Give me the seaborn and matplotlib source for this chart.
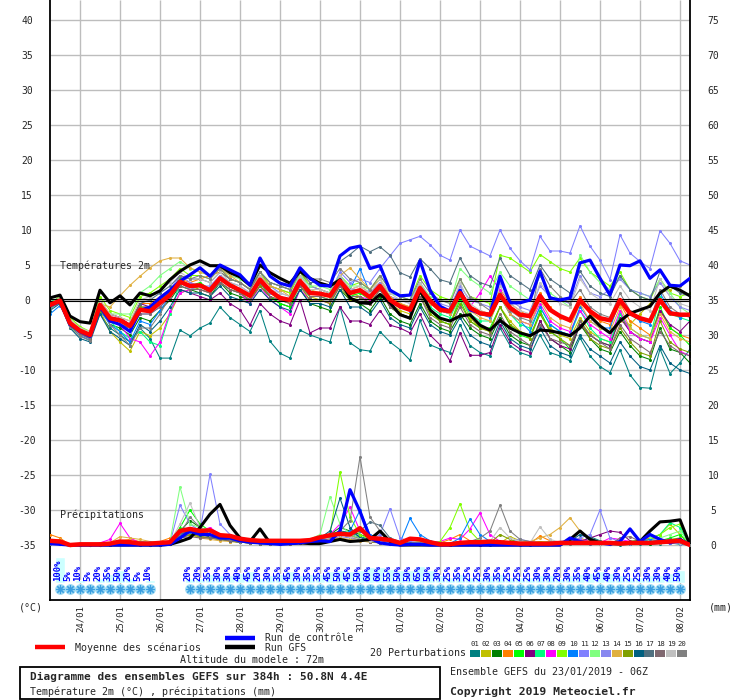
import matplotlib
matplotlib.use("Agg")
import matplotlib.pyplot as plt
from matplotlib.patches import Rectangle
import pandas as pd
import seaborn as sns

# ---- time axis (hours after 23/01/2019 06Z) ----
hours = list(range(0, 385, 6))
day_ticks = list(range(18, 384, 24))
day_labels = ['24/01', '25/01', '26/01', '27/01', '28/01', '29/01', '30/01', '31/01',
              '01/02', '02/02', '03/02', '04/02', '05/02', '06/02', '07/02', '08/02']

# ---- 2m temperature (degC) ----
mean_t = [-0.7, -0.1, -3.3, -4.4, -5.0,
          -0.7, -2.6, -2.9, -3.7, -1.4, -1.6, -0.4, 0.7, 2.6, 2.0, 2.1, 1.4,
          3.1, 2.1, 1.4, 0.6, 2.9, 1.3, 0.3, 0.0, 2.7, 1.0, 0.9, 0.6,
          2.7, 1.0, 1.4, 0.4, 2.0, 0.0, -0.9, -1.4, 1.7, -0.1, -1.4, -1.6,
          1.0, -1.1, -1.9, -2.1, 0.7, -1.1, -2.1, -2.3, 0.6, -1.4, -2.3, -2.9,
          0.0, -1.6, -2.6, -2.9, 0.0, -1.9, -2.6, -3.0, 0.0, -1.9, -2.1, -2.1]
ctrl_t = [-0.8, -0.2, -3.5, -4.5, -5.2,
          -1.0, -3.0, -3.5, -4.5, -1.5, -1.0, 0.3, 1.4, 2.7, 3.6, 4.6, 3.4,
          5.0, 4.3, 3.6, 2.1, 6.0, 3.4, 2.4, 2.0, 4.6, 3.1, 2.1, 2.0,
          6.3, 7.4, 7.7, 4.5, 4.9, 1.4, 0.6, 0.7, 5.6, 1.4, -0.9, -1.6,
          1.4, -1.4, -1.9, -2.1, 3.4, -0.4, -0.4, 0.0, 4.1, 0.3, 0.0, 0.3,
          5.3, 5.7, 3.1, 0.7, 5.0, 4.9, 5.6, 3.1, 4.3, 2.1, 2.0, 3.1]
gfs_t = [0.3, 0.7, -2.3, -3.1, -3.3,
         1.4, -0.4, 0.6, -0.7, 1.0, 0.6, 1.3, 2.9, 4.1, 5.0, 5.6, 4.9,
         4.9, 3.9, 3.3, 2.1, 5.0, 3.9, 3.1, 2.4, 4.1, 3.1, 2.4, 2.0,
         2.9, 0.3, -0.4, -0.5, 0.8, -0.4, -2.1, -2.6, 1.4, -1.4, -2.6, -3.0,
         -2.3, -2.1, -3.6, -4.3, -2.9, -4.0, -4.7, -5.1, -4.3, -4.4, -4.7, -5.1,
         -4.0, -2.3, -3.7, -4.7, -3.0, -1.9, -1.4, -0.9, 1.0, 2.0, 1.4, 0.6]

p01_t = [-0.5, 0.0, -3.5, -5.0, -5.5, -2.0, -4.0, -5.0, -6.0, -4.0, -5.5, -8.3, -8.3,
         -4.3, -5.1, -4.0, -3.3, -1.0, -2.5, -3.5, -4.5, -1.5, -5.9, -7.6, -8.3,
         -4.3, -5.0, -5.5, -6.0, -1.0, -6.1, -7.1, -7.3, -4.5, -6.0, -7.1, -8.6,
         -2.9, -6.4, -7.0, -7.5, -3.5, -6.5, -7.5, -8.0, -4.0, -6.5, -7.5, -8.0,
         -5.0, -7.5, -8.0, -8.7, -5.4, -8.0, -9.5, -10.4, -7.1, -10.7, -12.5, -12.6,
         -7.0, -10.5, -9.0, -7.0]
p02_t = [-1.0, 0.2, -3.0, -4.5, -5.2, -1.5, -4.5, -6.0, -7.3, -4.5, -5.1, -4.0, -2.0,
         1.0, 1.5, 2.0, 1.5, 3.5, 2.5, 1.5, 0.5, 3.0, 1.0, 0.0, -0.5,
         2.0, 0.5, 0.0, -0.5, 2.5, 1.0, 0.5, -0.5, 2.5, -0.5, -1.5, -2.0,
         1.0, -1.5, -3.0, -3.5, 0.5, -2.5, -4.0, -4.5, -1.0, -3.0, -4.5, -5.0,
         -2.0, -4.0, -5.0, -5.5, -2.5, -4.5, -5.5, -6.0, -3.0, -3.5, -2.0, -0.5,
         1.0, 1.5, 2.0, 3.1]
p03_t = [-0.8, 0.3, -3.2, -4.8, -5.5, -1.0, -3.5, -4.0, -5.0, -2.5, -3.0, -1.5, 0.0,
         2.0, 1.5, 1.0, 0.5, 2.5, 1.0, 0.5, 0.0, 2.0, 0.5, -0.5, -1.0,
         1.5, -0.5, -1.0, -1.5, 1.5, 0.0, -0.5, -1.5, 0.5, -2.0, -3.0, -3.5,
         -0.5, -3.0, -4.0, -4.5, -2.0, -4.0, -5.0, -5.5, -2.5, -5.0, -6.0, -6.5,
         -3.0, -5.5, -6.5, -7.5, -3.5, -5.5, -7.0, -7.5, -4.5, -6.5, -8.0, -8.5,
         -4.0, -7.0, -7.5, -9.0]
p04_t = [-0.5, 0.5, -2.8, -4.0, -4.8, 0.0, -2.0, -2.5, -3.0, -0.5, -0.5, 0.5, 1.5,
         3.0, 2.5, 3.0, 3.5, 4.0, 3.0, 2.5, 1.5, 4.0, 2.0, 1.5, 1.0,
         4.0, 2.0, 1.5, 1.0, 3.5, 1.5, 2.0, 1.0, 2.5, 0.5, -0.5, -1.0,
         2.0, 0.0, -1.0, -1.5, 1.5, -1.0, -1.5, -2.0, 1.5, -0.5, -1.5, -2.5,
         1.0, -1.0, -2.5, -3.0, 0.5, -2.0, -3.0, -3.5, -0.5, -3.0, -4.0, -5.0,
         -1.5, -4.0, -5.0, -5.5]
p05_t = [-1.2, -0.3, -3.8, -5.0, -5.8, -1.0, -3.0, -3.5, -4.0, -1.0, -1.5, 0.0, 1.0,
         3.0, 2.0, 2.5, 1.5, 3.0, 2.0, 1.0, 0.5, 2.5, 0.5, -0.5, -1.0,
         2.5, 0.5, 0.5, 0.0, 2.5, 0.5, 1.0, 0.0, 2.0, -1.0, -2.0, -2.5,
         1.5, -1.5, -3.0, -3.5, 0.0, -3.0, -4.0, -4.0, -1.0, -3.5, -5.0, -5.5,
         -1.5, -4.5, -5.5, -7.0, -3.0, -5.0, -6.0, -6.5, -2.0, -4.5, -5.5, -6.0,
         -1.0, -4.0, -5.0, -6.5]
p06_t = [-1.0, -0.5, -3.5, -4.5, -5.0, -1.0, -2.0, -2.5, -3.5, -0.5, -1.0, 0.0, 1.0,
         1.5, 1.0, 0.5, 0.0, 1.0, -0.5, -1.4, -3.6, -0.5, -2.0, -3.0, -3.5,
         0.0, -4.7, -4.0, -4.0, -1.0, -3.0, -3.0, -3.5, -1.5, -3.6, -4.0, -4.7,
         -2.0, -5.0, -6.4, -8.7, -4.7, -7.9, -7.9, -7.5, -3.5, -6.0, -7.0, -7.5,
         -3.0, -5.5, -6.5, -7.0, -3.5, -5.0, -6.0, -6.5, -2.5, -4.5, -5.5, -6.0,
         -1.5, -3.5, -4.5, -3.0]
p07_t = [-0.3, 0.4, -3.0, -4.2, -5.0, -0.5, -3.0, -4.5, -5.5, -4.5, -6.0, -6.5, -2.0,
         2.5, 2.0, 2.0, 1.0, 2.5, 1.5, 1.0, 0.0, 2.5, 1.0, 0.5, 0.0,
         2.5, 1.0, 1.0, 0.5, 3.0, 1.5, 1.5, 0.5, 2.0, 0.0, -1.0, -1.5,
         1.5, -1.0, -2.0, -2.5, 0.5, -2.0, -3.0, -3.0, 0.5, -2.0, -3.5, -4.0,
         -1.0, -3.5, -4.5, -5.0, -1.5, -4.0, -5.5, -6.0, -2.0, -4.0, -5.0, -5.5,
         0.5, -2.0, -2.5, -3.0]
p08_t = [-1.0, -0.2, -3.5, -4.8, -5.5, -0.5, -2.5, -3.5, -5.5, -6.0, -8.0, -6.0, -1.6,
         1.0, 1.5, 1.5, 1.0, 2.5, 1.5, 1.0, -0.5, 2.0, 0.0, -1.0, -2.0,
         1.5, 0.0, 0.0, -0.5, 2.0, 0.5, 0.5, 0.0, 2.0, -0.5, -1.0, -1.5,
         2.0, -0.5, -1.5, -2.0, 1.0, -1.0, 1.0, 3.4, 1.5, -2.0, -3.0, -3.5,
         -0.5, -3.0, -4.0, -4.5, -1.5, -3.5, -4.5, -5.5, -1.5, -4.5, -5.5, -6.0,
         -2.5, -5.0, -7.3, -8.0]
p09_t = [-0.6, 0.5, -2.5, -3.8, -4.5, 0.5, -1.5, -2.0, -2.5, 0.5, 1.0, 2.0, 3.0,
         4.5, 3.5, 3.5, 3.0, 4.5, 3.0, 2.5, 1.5, 4.0, 2.0, 1.5, 1.0,
         4.0, 2.0, 1.5, 1.0, 3.5, 2.0, 2.5, 1.5, 3.5, 1.5, 0.5, 0.0,
         3.5, 1.5, 0.5, 0.0, 3.0, 0.5, 0.0, -0.5, 6.4, 6.0, 5.0, 4.0,
         6.5, 5.5, 4.5, 4.0, 6.0, 4.0, 3.0, 2.0, 4.0, 1.5, 0.5, 0.0,
         3.0, 1.0, 0.5, 1.0]
p10_t = [-2.0, -0.8, -3.5, -5.0, -5.8, -1.5, -3.5, -4.5, -6.0, -3.0, -3.5, -1.5, 0.5,
         2.5, 2.0, 2.0, 1.5, 3.0, 2.0, 1.5, 0.5, 3.0, 1.5, 0.5, 0.0,
         3.0, 1.0, 1.0, 0.5, 3.0, 1.5, 4.5, 1.0, 2.0, 0.0, -1.0, -1.5,
         1.5, -0.5, -1.5, -2.0, 1.5, -1.0, -2.0, -2.5, 0.5, -2.0, -3.0, -4.5,
         -1.0, -3.5, -4.5, -5.0, -1.0, -3.0, -4.0, -4.0, 0.0, -2.0, -3.0, -3.5,
         1.0, -1.5, -2.5, -2.0]
p11_t = [-0.5, 0.2, -3.0, -4.5, -5.0, -1.0, -2.5, -3.0, -3.5, -1.0, -1.0, 0.5, 1.5,
         3.5, 2.5, 2.0, 2.0, 3.5, 2.5, 2.0, 1.0, 3.5, 2.0, 1.0, 0.5,
         3.5, 2.0, 1.5, 1.0, 4.0, 2.5, 3.0, 2.5, 4.5, 6.3, 8.1, 8.6,
         9.1, 7.9, 6.4, 5.7, 10.0, 7.7, 7.0, 6.3, 10.0, 7.4, 5.6, 4.3,
         9.1, 7.0, 7.0, 6.7, 10.6, 7.7, 5.7, 2.9, 9.3, 6.7, 5.5, 4.5,
         9.9, 8.1, 5.6, 5.0]
p12_t = [-0.8, 0.0, -3.2, -4.5, -5.2, -0.5, -2.0, -2.0, -2.0, 1.0, 2.0, 3.5, 4.5,
         5.5, 4.5, 4.0, 3.5, 4.5, 3.5, 3.0, 2.0, 4.0, 2.5, 2.0, 1.5,
         3.5, 2.0, 2.0, 1.5, 3.5, 2.0, 2.0, 1.5, 3.0, 1.0, 0.5, 0.0,
         2.5, 0.5, 0.0, -0.5, 4.5, 3.0, 2.0, 1.0, 4.0, 2.0, 1.0, 0.0,
         3.5, 1.0, 0.0, -1.0, 6.5, 4.0, 2.5, 1.5, 3.5, 1.5, 1.0, 0.5,
         3.0, 1.0, -1.0, -2.0]
p13_t = [-1.0, -0.5, -3.5, -5.0, -5.6, -1.0, -3.0, -3.5, -4.5, -2.0, -2.0, -1.0, 0.5,
         2.5, 1.5, 2.0, 1.5, 3.0, 2.0, 1.5, 0.5, 3.0, 1.0, 0.5, 0.0,
         3.0, 1.0, 1.0, 0.5, 3.0, 1.5, 1.5, 1.0, 2.5, 0.5, 0.0, -0.5,
         2.5, 0.0, -0.5, -1.0, 2.0, 0.0, -0.5, -1.0, 2.5, 0.0, -1.0, -1.5,
         2.0, 0.5, 0.0, -0.5, 3.5, 1.0, 0.5, 1.5, 3.0, 1.5, 1.0, 0.5,
         2.5, 0.5, -1.0, -1.5]
p14_t = [-0.5, 0.3, -3.0, -4.2, -5.0, -0.5, -1.0, 0.6, 2.1, 3.4, 4.6, 5.6, 6.0,
         6.0, 4.6, 4.0, 3.5, 4.5, 3.5, 2.5, 1.5, 3.5, 2.0, 1.5, 0.5,
         3.0, 1.5, 1.0, 0.5, 3.5, 4.6, 3.0, 1.5, 3.0, 0.5, -0.5, -1.0,
         2.0, -0.5, -1.5, -2.0, 1.0, -1.5, -2.5, -3.0, 0.5, -2.0, -3.0, -3.5,
         0.0, -2.5, -3.5, -4.0, -0.5, -3.0, -4.0, -4.5, -1.0, -4.0, -5.0, -5.5,
         -2.0, -4.5, -5.5, -6.0]
p15_t = [-1.0, 0.0, -3.5, -4.8, -5.5, -1.5, -3.0, -3.5, -4.0, -1.0, -1.0, 0.0, 1.0,
         2.5, 2.0, 1.5, 1.0, 2.5, 1.5, 1.0, 0.0, 2.0, 0.5, 0.0, -0.5,
         2.0, 0.0, 0.0, -0.5, 2.0, 0.0, 0.5, -0.5, 1.5, -1.0, -2.0, -2.5,
         0.5, -2.0, -3.0, -3.5, -0.5, -3.0, -4.0, -4.5, -1.0, -3.5, -4.5, -5.5,
         -2.0, -4.5, -5.5, -6.5, -3.0, -5.5, -6.5, -7.0, -4.0, -6.0, -7.5, -8.0,
         -3.0, -6.0, -7.0, -7.5]
p16_t = [-1.5, -0.5, -4.0, -5.5, -6.0, -2.0, -4.5, -5.5, -6.5, -3.5, -4.5, -3.0, -1.0,
         1.5, 1.0, 1.0, 0.5, 2.0, 0.5, 0.0, -0.5, 1.5, 0.0, -1.0, -1.5,
         1.5, -0.5, -0.5, -1.0, 1.5, -1.0, -1.0, -2.0, 0.0, -2.5, -3.5, -4.0,
         -1.0, -3.5, -4.5, -5.0, -2.5, -5.0, -6.0, -6.5, -3.0, -5.5, -6.5, -7.0,
         -4.0, -6.5, -7.5, -8.0, -5.0, -7.0, -8.0, -9.0, -6.0, -8.0, -9.5, -10.0,
         -6.5, -9.0, -10.0, -10.5]
p17_t = [-0.8, 0.2, -3.0, -4.5, -5.0, -0.5, -2.5, -3.0, -3.5, -0.5, 0.0, 1.0, 2.0,
         3.5, 3.0, 3.0, 2.5, 4.0, 3.0, 2.5, 1.5, 4.0, 2.5, 2.0, 1.5,
         4.0, 2.5, 2.5, 2.0, 5.5, 6.5, 7.7, 6.9, 7.6, 6.4, 3.9, 3.3,
         5.9, 4.5, 2.9, 2.5, 6.0, 3.5, 2.5, 2.0, 6.0, 3.5, 2.5, 1.5,
         5.0, 3.0, 2.0, 1.0, 4.1, 2.0, 1.0, 0.5, 3.5, 1.5, 0.5, 0.0,
         4.1, 2.0, 1.0, 0.5]
p18_t = [-1.0, -0.3, -3.5, -4.8, -5.5, -1.0, -3.0, -3.5, -4.0, -2.0, -2.0, -1.0, 0.5,
         2.0, 1.5, 1.5, 1.0, 2.5, 1.5, 1.0, 0.0, 2.5, 0.5, 0.0, -0.5,
         2.0, 0.5, 0.5, 0.0, 2.0, 0.5, 0.5, -0.5, 1.5, -1.0, -2.0, -2.5,
         0.5, -2.5, -3.5, -4.0, -1.0, -3.5, -4.5, -5.0, -2.0, -4.5, -5.5, -6.5,
         -3.5, -5.5, -6.0, -6.5, -3.0, -5.0, -6.0, -7.0, -3.5, -5.5, -6.5, -7.5,
         -4.5, -6.5, -7.5, -8.0]
p19_t = [-0.6, 0.4, -2.8, -4.0, -4.5, 0.0, -2.0, -2.5, -3.0, 0.0, 0.5, 1.5, 2.5,
         4.0, 3.0, 3.0, 2.5, 4.0, 2.5, 2.0, 1.0, 3.5, 1.5, 1.0, 0.5,
         3.5, 1.5, 1.5, 1.0, 3.5, 1.5, 2.0, 1.0, 3.0, 1.0, 0.0, -0.5,
         2.5, 0.0, -1.0, -1.5, 2.5, -0.5, -1.5, -2.0, 2.0, -0.5, -1.5, -2.0,
         2.5, 0.5, -0.5, -1.0, 3.0, 1.0, 0.0, -0.5, 2.0, 0.0, -1.0, -1.5,
         3.0, 0.5, -0.5, -1.0]
p20_t = [-1.2, -0.4, -3.8, -5.2, -5.8, -1.0, -3.5, -5.0, -6.5, -4.0, -4.0, -2.0, 0.5,
         3.5, 3.0, 3.5, 3.0, 4.5, 3.0, 2.5, 1.5, 4.0, 2.5, 2.0, 1.5,
         4.0, 3.0, 3.0, 2.5, 4.5, 3.0, 2.5, 1.5, 3.5, 1.5, 0.5, 0.0,
         3.0, 1.0, 0.0, -0.5, 3.0, 0.5, -0.5, -1.5, 1.0, -1.5, -2.5, -3.0,
         4.5, 2.0, 0.5, -0.5, 1.5, -1.0, -2.0, -2.5, 1.0, -1.5, -2.5, -3.0,
         1.5, -1.0, -2.0, -2.5]

# ---- 6h precipitation (mm) ----
mean_p = [0.6, 0.5, 0.0, 0.1, 0.1, 0.1, 0.2, 0.5, 0.4, 0.2, 0.2, 0.3, 0.4,
          2.0, 2.3, 2.0, 2.1, 1.4, 1.3, 0.9, 0.7, 0.6, 0.6, 0.6, 0.6,
          0.6, 0.7, 1.1, 1.4, 1.6, 1.5, 2.4, 1.0, 0.9, 0.7, 0.3, 0.9, 0.8, 0.4, 0.1, 0.1,
          0.3, 0.4, 0.4, 0.5, 0.4, 0.3, 0.2, 0.2, 0.2, 0.2, 0.3, 0.3, 0.3, 0.3, 0.3, 0.3,
          0.2, 0.3, 0.3, 0.3, 0.4, 0.5, 0.6, 0.0]
ctrl_p = [0.2, 0.1, 0, 0, 0, 0, 0, 0, 0, 0, 0, 0, 0.1,
          1.0, 2.0, 1.5, 1.5, 1.0, 1.0, 0.6, 0.4, 0.3, 0.2, 0.1, 0.2,
          0.3, 0.5, 0.6, 0.5, 2.0, 7.9, 4.8, 1.0, 0.3, 0.1, 0, 0.1, 0.1, 0, 0, 0,
          0, 0, 0, 0, 0, 0, 0, 0, 0, 0, 0, 1.0, 0.5, 0.2, 0.3, 0.1,
          0.5, 2.3, 0.5, 1.5, 0.8, 0.3, 0.8, 0]
gfs_p = [0.3, 0.2, 0, 0, 0, 0, 0, 0, 0, 0, 0, 0, 0.1,
         0.5, 1.0, 2.5, 4.4, 5.8, 2.8, 1.0, 0.5, 2.3, 0.3, 0.2, 0.2,
         0.3, 0.2, 0.2, 0.5, 0.8, 0.5, 0.6, 0.8, 2.0, 0.5, 0, 0, 0, 0, 0, 0,
         0, 0, 0, 0, 0, 0, 0, 0, 0, 0, 0, 0.8, 2.0, 0.8, 0.3, 0.2,
         0.2, 0.3, 0.5, 2.0, 3.3, 3.4, 3.6, 0]

p01_p = [0.2, 0.3, 0, 0, 0, 0, 0.1, 0.2, 0.2, 0, 0, 0, 0.1,
         1.0, 1.5, 1.2, 1.0, 0.8, 0.6, 0.4, 0.3, 0.2, 0.2, 0.2, 0.3,
         0.4, 0.5, 0.8, 1.5, 2.0, 1.8, 1.2, 0.8, 0.5, 0.3, 0.2, 0.1, 0.3, 0.2, 0.1, 0,
         0.1, 0.1, 0, 0, 0.1, 0.1, 0, 0, 0.1, 0.2, 0.1, 0.2, 0.3, 1.2, 0.6, 0.1,
         0, 0.1, 0.2, 0.1, 0.2, 0.3, 0.1, 0]
p02_p = [0.1, 0.2, 0, 0, 0, 0, 0, 0.1, 0.1, 0, 0, 0, 0.2,
         1.5, 2.0, 1.5, 1.2, 1.0, 0.5, 0.4, 0.3, 0.3, 0.2, 0.2, 0.2,
         0.3, 0.4, 0.6, 1.0, 1.5, 1.2, 0.8, 0.5, 0.3, 0.2, 0.1, 0.2, 0.5, 0.3, 0.1, 0.2,
         0.5, 0.3, 0.2, 0.1, 0.3, 1.2, 0.6, 0.4, 0.5, 0.3, 0.2, 0.6, 1.0, 0.5, 0.3, 0.2,
         0.2, 0.3, 0.5, 1.0, 1.5, 3.0, 1.5, 0]
p03_p = [0.3, 0.4, 0, 0, 0, 0, 0.1, 0.3, 0.2, 0.1, 0, 0, 0.1,
         2.0, 3.5, 2.5, 2.0, 1.5, 1.0, 0.6, 0.4, 0.3, 0.2, 0.3, 0.4,
         0.5, 0.6, 1.0, 1.5, 2.5, 2.0, 1.5, 1.0, 0.6, 0.3, 0.1, 0.2, 0.3, 0.2, 0.1, 0,
         0.1, 0.2, 0.1, 0.1, 0.2, 0.3, 0.2, 0.1, 0.2, 0.1, 0.1, 0.3, 0.5, 0.3, 0.2, 0.1,
         0.1, 0.2, 0.3, 0.2, 0.4, 0.5, 0.8, 0]
p04_p = [1.5, 1.0, 0, 0, 0, 0, 0.2, 0.6, 0.8, 0.5, 0.3, 0.5, 1.0,
         1.5, 1.8, 1.2, 1.0, 1.5, 0.8, 0.5, 0.3, 0.2, 0.3, 0.4, 0.5,
         0.6, 0.8, 1.0, 1.2, 1.5, 1.2, 1.0, 0.6, 0.4, 0.3, 0.2, 0.2, 0.3, 0.2, 0.3, 0.8,
         1.5, 0.6, 0.3, 0.2, 0.5, 0.3, 0.2, 0.2, 1.3, 0.6, 0.3, 0.4, 0.6, 0.5, 0.3, 0.2,
         0.3, 0.5, 0.6, 1.0, 0.8, 0.5, 0.4, 0]
p05_p = [0.2, 0.3, 0, 0, 0, 0, 0.1, 0.2, 0.3, 0.1, 0, 0.1, 0.3,
         2.5, 5.0, 3.0, 2.0, 1.5, 1.0, 0.6, 0.4, 0.3, 0.3, 0.2, 0.3,
         0.5, 0.6, 1.0, 1.2, 1.5, 1.5, 1.0, 0.6, 0.4, 0.2, 0.1, 0.2, 0.2, 0.1, 0.1, 0.1,
         0.2, 0.1, 0.1, 0.2, 0.3, 0.5, 0.3, 0.2, 0.2, 0.3, 0.2, 0.3, 0.5, 0.3, 0.2, 0.2,
         0.2, 0.3, 0.3, 0.5, 0.6, 1.0, 1.5, 0]
p06_p = [0.1, 0.2, 0, 0, 0, 0, 0, 0.1, 0.1, 0, 0, 0, 0.1,
         1.0, 1.5, 1.5, 1.2, 1.0, 0.8, 0.5, 0.3, 0.2, 0.2, 0.1, 0.2,
         0.3, 0.4, 0.8, 1.2, 1.8, 1.5, 1.0, 0.6, 0.4, 0.2, 0.1, 0.1, 0.2, 0.1, 0.1, 0,
         0.1, 0.1, 0, 0.1, 0.1, 0.2, 0.1, 0.1, 0.1, 0.1, 0.2, 0.3, 0.5, 1.0, 1.5, 2.0,
         1.8, 0.6, 0.4, 0.3, 0.5, 0.6, 0.3, 0]
p07_p = [0.2, 0.2, 0, 0, 0, 0, 0.1, 0.2, 0.2, 0.1, 0, 0, 0.1,
         1.5, 2.5, 2.0, 1.5, 1.2, 1.0, 0.6, 0.4, 0.3, 0.2, 0.2, 0.3,
         0.4, 0.5, 0.8, 1.2, 1.5, 1.2, 0.8, 0.5, 0.3, 0.2, 0.1, 0.1, 0.2, 0.1, 0.1, 0.1,
         0.1, 0.2, 0.1, 0.1, 0.2, 0.3, 0.2, 0.1, 0.2, 0.2, 0.1, 0.2, 0.3, 0.2, 0.1, 0.1,
         0.2, 0.3, 0.5, 0.8, 1.5, 3.2, 2.5, 0]
p08_p = [0.3, 0.5, 0, 0, 0, 0.3, 0.8, 3.1, 1.0, 0.3, 0.1, 0.2, 0.5,
         1.5, 1.8, 2.0, 2.5, 1.5, 1.0, 0.6, 0.4, 0.3, 0.3, 0.2, 0.3,
         0.4, 0.6, 1.0, 1.5, 3.0, 5.4, 2.0, 1.0, 0.5, 0.3, 0.2, 0.1, 0.2, 0.3, 0.5, 1.0,
         0.8, 2.3, 4.6, 1.5, 0.5, 0.3, 0.2, 0.2, 0.2, 0.3, 0.3, 0.5, 0.8, 0.5, 0.3, 1.0,
         0.8, 0.5, 0.3, 0.4, 0.5, 0.6, 0.4, 0]
p09_p = [0.2, 0.3, 0, 0, 0, 0, 0.1, 0.2, 0.3, 0.2, 0.1, 0.1, 0.3,
         1.5, 2.0, 1.5, 1.5, 1.2, 1.0, 0.5, 0.4, 0.3, 0.3, 0.2, 0.4,
         0.5, 0.6, 0.8, 1.5, 10.4, 4.0, 1.5, 0.8, 0.3, 0.2, 0.1, 0.2, 0.3, 0.2, 0.5, 2.5,
         5.9, 2.0, 0.5, 0.3, 0.3, 0.2, 0.2, 0.3, 0.4, 0.5, 0.3, 0.2, 0.3, 0.5, 0.4, 0.3,
         0.3, 0.5, 0.6, 0.8, 1.5, 2.5, 3.0, 0]
p10_p = [0.2, 0.2, 0, 0, 0, 0, 0.1, 0.2, 0.2, 0, 0, 0.1, 0.2,
         1.2, 1.8, 1.5, 1.5, 1.0, 0.8, 0.5, 0.3, 0.2, 0.2, 0.2, 0.3,
         0.4, 0.5, 0.8, 1.2, 1.5, 2.0, 5.0, 1.5, 0.8, 0.5, 0.3, 3.8, 1.5, 0.6, 0.3, 0.2,
         1.0, 3.7, 1.5, 0.5, 0.3, 0.2, 0.2, 0.3, 0.3, 0.4, 0.5, 0.3, 0.3, 0.5, 0.4, 0.3,
         0.2, 0.3, 0.5, 0.8, 0.6, 0.5, 0.3, 0]
p11_p = [0.2, 0.1, 0, 0, 0, 0, 0.1, 0.2, 0.1, 0, 0, 0.1, 0.3,
         5.7, 3.0, 2.0, 10.1, 3.0, 1.5, 0.8, 0.5, 0.3, 0.3, 0.2, 0.3,
         0.5, 0.6, 0.8, 1.0, 1.5, 1.2, 0.8, 0.5, 1.5, 5.2, 1.0, 0.5, 0.3, 0.2, 0.1, 0.1,
         0.2, 0.3, 0.2, 0.1, 0.2, 0.5, 0.8, 0.5, 0.3, 0.4, 0.5, 0.8, 1.0, 1.5, 5.0, 1.0,
         0.5, 0.4, 0.3, 0.5, 0.4, 0.3, 0.2, 0]
p12_p = [0.3, 0.3, 0, 0, 0, 0, 0.2, 0.3, 0.3, 0.1, 0.1, 0.2, 0.5,
         8.3, 3.0, 2.5, 2.0, 1.5, 1.0, 0.6, 0.4, 0.3, 0.3, 0.3, 0.5,
         0.6, 0.8, 1.5, 6.9, 3.0, 1.5, 1.0, 0.6, 0.4, 0.2, 0.2, 0.3, 0.5, 0.3, 0.2, 0.2,
         0.3, 0.5, 0.4, 0.3, 0.5, 0.4, 0.3, 0.2, 0.3, 0.4, 0.3, 0.5, 0.6, 0.4, 0.3, 0.3,
         0.4, 0.5, 0.8, 1.2, 1.0, 1.5, 2.0, 0]
p13_p = [0.1, 0.2, 0, 0, 0, 0, 0.1, 0.1, 0.1, 0, 0, 0, 0.2,
         1.5, 2.5, 2.0, 1.5, 1.0, 0.8, 0.5, 0.3, 0.2, 0.2, 0.2, 0.2,
         0.3, 0.4, 0.6, 0.8, 1.2, 1.0, 0.8, 0.5, 0.3, 0.2, 0.1, 0.2, 0.3, 0.2, 0.1, 0.1,
         0.1, 0.2, 0.1, 0.1, 0.2, 0.3, 0.2, 0.1, 0.2, 0.2, 0.1, 0.2, 0.3, 0.2, 0.1, 0.1,
         0.2, 0.2, 0.3, 0.4, 0.3, 0.5, 0.3, 0]
p14_p = [0.5, 0.8, 0, 0, 0, 0.1, 0.3, 1.2, 1.0, 0.8, 0.5, 0.4, 0.5,
         1.2, 1.5, 1.0, 0.8, 0.6, 0.5, 0.4, 0.3, 0.3, 0.3, 0.2, 0.3,
         0.4, 0.5, 0.6, 0.8, 1.0, 0.8, 0.6, 0.4, 0.3, 0.2, 0.2, 0.3, 0.4, 0.3, 0.2, 0.2,
         0.2, 0.3, 0.2, 0.2, 0.3, 0.2, 0.3, 0.5, 1.0, 1.5, 2.5, 3.9, 2.0, 1.0, 0.5, 0.3,
         0.3, 0.4, 0.5, 0.4, 0.3, 0.5, 0.4, 0]
p15_p = [0.2, 0.3, 0, 0, 0, 0, 0.1, 0.2, 0.2, 0.1, 0, 0, 0.2,
         1.0, 1.5, 1.2, 1.0, 0.8, 0.6, 0.4, 0.3, 0.2, 0.2, 0.2, 0.2,
         0.3, 0.4, 0.6, 1.0, 1.5, 1.2, 0.8, 0.5, 0.3, 0.2, 0.1, 0.2, 0.3, 0.2, 0.1, 0.3,
         0.5, 0.3, 0.2, 0.3, 1.5, 0.8, 0.3, 0.2, 0.2, 0.3, 0.2, 0.3, 0.5, 0.3, 0.2, 0.2,
         0.2, 0.3, 0.4, 0.3, 0.5, 0.8, 1.0, 0]
p16_p = [0.2, 0.2, 0, 0, 0, 0, 0.1, 0.2, 0.2, 0.1, 0, 0, 0.2,
         1.5, 2.0, 1.5, 1.2, 1.0, 0.6, 0.4, 0.3, 0.2, 0.2, 0.2, 0.3,
         0.5, 0.6, 1.0, 2.0, 6.7, 2.5, 1.0, 0.6, 0.4, 0.2, 0.1, 0.2, 0.3, 0.2, 0.1, 0.1,
         0.1, 0.2, 0.1, 0.1, 0.2, 0.3, 0.2, 0.2, 0.2, 0.3, 0.2, 0.5, 1.5, 1.0, 0.5, 0.3,
         0.3, 0.4, 0.3, 0.5, 0.6, 0.5, 0.3, 0]
p17_p = [0.3, 0.3, 0, 0, 0, 0, 0.1, 0.2, 0.2, 0.1, 0, 0.1, 0.2,
         1.5, 2.0, 1.8, 1.5, 1.2, 0.8, 0.5, 0.3, 0.3, 0.2, 0.2, 0.3,
         0.5, 0.6, 0.8, 1.2, 1.8, 1.5, 2.0, 3.3, 2.8, 1.0, 0.5, 0.3, 0.3, 0.2, 0.1, 0.1,
         0.2, 0.2, 0.1, 0.2, 0.3, 0.2, 0.2, 0.1, 0.2, 0.3, 0.2, 0.3, 0.5, 0.3, 0.2, 0.2,
         0.3, 0.3, 0.5, 0.4, 0.6, 0.8, 0.5, 0]
p18_p = [0.1, 0.2, 0, 0, 0, 0, 0, 0.1, 0.1, 0, 0, 0, 0.1,
         1.0, 1.2, 1.0, 1.0, 0.8, 0.6, 0.4, 0.3, 0.2, 0.2, 0.1, 0.2,
         0.3, 0.4, 0.6, 1.0, 1.5, 1.2, 0.8, 0.5, 0.3, 0.2, 0.1, 0.1, 0.2, 0.1, 0.1, 0.1,
         0.1, 0.1, 0.1, 0.1, 0.2, 0.2, 0.1, 0.1, 0.1, 0.2, 0.1, 0.2, 0.3, 0.2, 0.1, 0.1,
         1.0, 1.2, 0.5, 0.3, 0.4, 0.5, 0.3, 0]
p19_p = [0.2, 0.3, 0, 0, 0, 0, 0.1, 0.2, 0.3, 0.4, 0.3, 0.2, 0.4,
         3.0, 6.0, 2.5, 1.5, 1.2, 1.0, 0.6, 0.5, 0.4, 0.3, 0.3, 0.4,
         0.5, 0.6, 0.8, 1.0, 1.5, 1.2, 0.8, 0.6, 0.4, 0.3, 0.2, 0.2, 0.3, 0.2, 0.2, 0.2,
         0.3, 0.4, 0.3, 0.5, 2.5, 1.0, 0.5, 0.3, 2.6, 0.8, 0.4, 0.3, 0.4, 0.3, 0.2, 0.2,
         0.3, 0.4, 0.3, 0.5, 0.4, 0.6, 0.3, 0]
p20_p = [0.2, 0.2, 0, 0, 0, 0, 0.1, 0.3, 0.4, 0.5, 0.4, 0.3, 0.5,
         1.5, 4.0, 2.5, 1.5, 1.0, 0.8, 0.5, 0.4, 0.3, 0.3, 0.2, 0.3,
         0.4, 0.5, 0.8, 1.2, 2.0, 3.5, 12.6, 4.0, 2.0, 0.6, 0.3, 0.2, 0.3, 0.2, 0.1, 0.2,
         0.3, 0.5, 1.0, 2.0, 5.7, 2.0, 0.8, 0.5, 0.3, 0.4, 0.3, 0.5, 0.6, 0.5, 0.3, 0.2,
         0.3, 0.4, 0.5, 0.4, 0.5, 0.6, 0.4, 0]

# ---- probability of precipitation (per 6h step) ----
prob_hours = list(range(6, 61, 6)) + list(range(84, 379, 6))
prob_vals = [100, 5, 10, 5, 20, 35, 50, 20, 5, 10,
             20, 20, 35, 30, 30, 40, 45, 20, 30, 35, 45, 30, 35, 35, 45, 50, 45, 50, 60,
             60, 55, 50, 50, 65, 50, 30, 25, 35, 25, 25, 30, 35, 25, 25, 25, 30, 30, 20,
             30, 35, 40, 45, 40, 30, 25, 25, 30, 30, 40, 50]

members = ['%02d' % k for k in range(1, 21)]
member_colors = ['#008080', '#c0c000', '#008000', '#ff8000', '#00ff00', '#800080', '#00ff80',
                 '#ff00ff', '#80ff00', '#0080ff', '#8080ff', '#80ff80', '#8888f0', '#e0b040',
                 '#80a000', '#006080', '#507080', '#806870', '#c0c0c0', '#808080']
pert_t = [p01_t, p02_t, p03_t, p04_t, p05_t, p06_t, p07_t, p08_t, p09_t, p10_t,
          p11_t, p12_t, p13_t, p14_t, p15_t, p16_t, p17_t, p18_t, p19_t, p20_t]
pert_p = [p01_p, p02_p, p03_p, p04_p, p05_p, p06_p, p07_p, p08_p, p09_p, p10_p,
          p11_p, p12_p, p13_p, p14_p, p15_p, p16_p, p17_p, p18_p, p19_p, p20_p]

df = pd.concat([pd.DataFrame({'hour': hours, 'member': m, 'temp': t, 'precip': p})
                for m, t, p in zip(members, pert_t, pert_p)], ignore_index=True)
palette = dict(zip(members, member_colors))

sns.set_style('white')
plt.rcParams['font.family'] = ['DejaVu Sans Mono']
MONO = 'DejaVu Sans Mono'
GRID = '#bdbdbd'

fig = plt.figure(figsize=(7.4, 7.0), dpi=100)
ax = fig.add_axes([50 / 740, 100 / 700, 640 / 740, 600 / 700])
ax.set_xlim(0, 384)
ax.set_ylim(-300 / 7, 300 / 7)

# grid
ax.hlines(list(range(-35, 45, 5)), 0, 384, colors=GRID, lw=1.0, zorder=0.5)
ax.vlines(day_ticks, -300 / 7, 300 / 7, colors=GRID, lw=1.0, zorder=0.5)

# temperatures
sns.lineplot(data=df, x='hour', y='temp', hue='member', palette=palette, estimator=None,
             sort=False, legend=False, lw=0.75, marker='o', markersize=2.2,
             markeredgewidth=0, ax=ax, zorder=2)
ax.axhline(0.17, color='black', lw=0.8, zorder=2.6)
ax.axhline(-0.17, color='black', lw=0.8, zorder=2.6)
sns.lineplot(x=hours, y=gfs_t, color='black', lw=2.2, ax=ax, zorder=4)
sns.lineplot(x=hours, y=ctrl_t, color='#0000ff', lw=2.3, ax=ax, zorder=5)
sns.lineplot(x=hours, y=mean_t, color='#ff0000', lw=3.2, ax=ax, zorder=6)

ax.set_yticks(list(range(-35, 45, 5)))
ax.set_yticklabels([str(v) for v in range(-35, 45, 5)], fontsize=7, family=MONO)
for lab in ax.get_yticklabels():
    lab.set_ha('center')
ax.tick_params(axis='y', length=0, pad=16.5)
ax.set_xticks(day_ticks)
ax.set_xticklabels(day_labels, rotation=90, fontsize=6.5, family=MONO)
ax.tick_params(axis='x', length=3, color=GRID, width=1, pad=1.0)
ax.set_xlabel('')
ax.set_ylabel('')
for side in ['left', 'bottom', 'right']:
    ax.spines[side].set_color('black')
    ax.spines[side].set_linewidth(1.3)
ax.spines['top'].set_visible(False)

# precipitation on the right-hand scale
ax2 = ax.twinx()
ax2.set_ylim(-300 / 7 + 35, 300 / 7 + 35)
sns.lineplot(data=df, x='hour', y='precip', hue='member', palette=palette, estimator=None,
             sort=False, legend=False, lw=0.75, marker='o', markersize=2.2,
             markeredgewidth=0, ax=ax2, zorder=2)
sns.lineplot(x=hours, y=gfs_p, color='black', lw=2.2, ax=ax2, zorder=4)
sns.lineplot(x=hours, y=ctrl_p, color='#0000ff', lw=2.3, ax=ax2, zorder=5)
sns.lineplot(x=hours, y=mean_p, color='#ff0000', lw=3.2, ax=ax2, zorder=6)
ax2.set_yticks(list(range(0, 80, 5)))
ax2.set_yticklabels([str(v) for v in range(0, 80, 5)], fontsize=7, family=MONO)
for lab in ax2.get_yticklabels():
    lab.set_ha('center')
ax2.tick_params(axis='y', length=0, pad=17)
ax2.set_ylabel('')
for s in ax2.spines.values():
    s.set_visible(False)

# probability strip
axs = fig.add_axes([50 / 740, 117 / 700, 640 / 740, 26 / 700])
axs.set_xlim(0, 384)
axs.set_ylim(0, 100)
axs.axis('off')
axs.bar(prob_hours, prob_vals, width=6, color='#ccffff', zorder=1)
axs.scatter(prob_hours, [-23] * len(prob_hours), s=60, color='#9ad8f2', clip_on=False,
            zorder=2, linewidths=0)
axs.scatter(prob_hours, [-23] * len(prob_hours), s=30, marker=(8, 2, 0), color='#3a9ee0',
            clip_on=False, zorder=3, linewidths=0.8)
for h, p in zip(prob_hours, prob_vals):
    axs.text(h - 1.2, 7, '%d%%' % p, rotation=90, ha='center', va='bottom', color='#0000ff',
             fontsize=6.5, family=MONO, fontweight='bold', zorder=4)

# annotations in pixel coordinates
ov = fig.add_axes([0, 0, 1, 1])
ov.set_xlim(0, 740)
ov.set_ylim(700, 0)
ov.axis('off')
ov.text(60, 266, 'Températures 2m', fontsize=7.2, va='center', ha='left')
ov.text(60, 515, 'Précipitations', fontsize=7.2, va='center', ha='left')
ov.text(31, 607, '(°C)', fontsize=7.2, va='center', ha='center')
ov.text(721, 607, '(mm)', fontsize=7.2, va='center', ha='center')

ov.plot([35, 65], [647, 647], color='#ff0000', lw=3.2, solid_capstyle='butt')
ov.text(75, 648, 'Moyenne des scénarios', fontsize=7.2, va='center', ha='left')
ov.plot([225, 255], [637.5, 637.5], color='#0000ff', lw=3.2, solid_capstyle='butt')
ov.text(265, 638, 'Run de contrôle', fontsize=7.0, va='center', ha='left')
ov.plot([225, 255], [647, 647], color='black', lw=3.2, solid_capstyle='butt')
ov.text(265, 648, 'Run GFS', fontsize=7.0, va='center', ha='left')
ov.text(180, 660, 'Altitude du modele : 72m', fontsize=7.2, va='center', ha='left')

ov.text(370, 653, '20 Perturbations', fontsize=7.2, va='center', ha='left')
for k, (m, c) in enumerate(zip(members, member_colors)):
    x0 = 470 + k * 10.9
    ov.add_patch(Rectangle((x0, 650), 10, 6.5, color=c, lw=0))
    ov.text(x0 + 5, 643.5, m, fontsize=5.2, va='center', ha='center')

ov.add_patch(Rectangle((20, 667), 420, 32, fill=False, edgecolor='black', lw=1.3))
ov.text(30, 677, 'Diagramme des ensembles GEFS sur 384h : 50.8N 4.4E', fontsize=8,
        fontweight='bold', va='center', ha='left')
ov.text(30, 692, 'Température 2m (°C) , précipitations (mm)', fontsize=7.2, va='center', ha='left')
ov.text(450, 672, 'Ensemble GEFS du 23/01/2019 - 06Z', fontsize=7.2, va='center', ha='left')
ov.text(450, 692, 'Copyright 2019 Meteociel.fr', fontsize=8.2, fontweight='bold',
        va='center', ha='left')

fig.savefig('out.png', dpi=100)
